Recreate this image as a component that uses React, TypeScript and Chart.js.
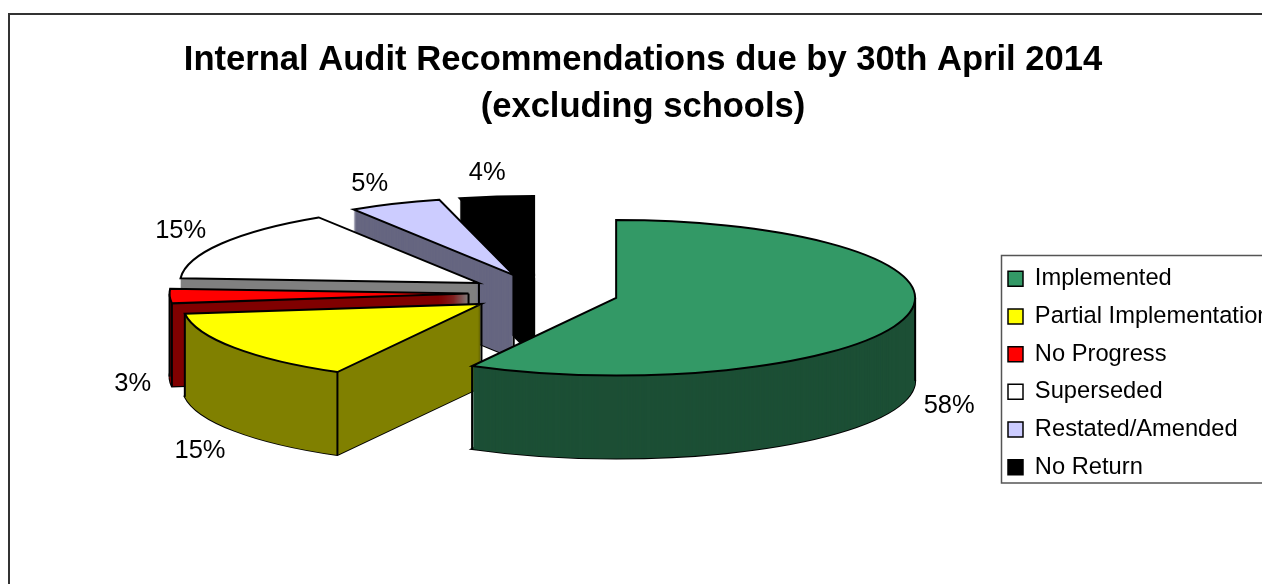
import React, { useEffect, useRef } from "react";
import { Chart, registerables } from "chart.js";

Chart.register(...registerables);

const categories = ["Implemented", "Partial Implementation", "No Progress", "Superseded", "Restated/Amended", "No Return"];
const shares = [58, 15, 3, 15, 5, 4];
const topColors = ["#339966", "#FFFF00", "#FF0000", "#FFFFFF", "#CCCCFF", "#000000"];
const wallColors = ["#1C4F35", "#808000", "#800000", "#808080", "#666680", "#000000"];
const titleLines = ["Internal Audit Recommendations due by 30th April 2014", "(excluding schools)"];

// Per-label fine adjustment of the percentage text, in pixels.
const labelNudgeX = [-6, 8, 14, 3, -5, -3];
const labelNudgeY = [2, 13, 4, -6, -8, -10];

const FONT = "'Liberation Sans', Arial, sans-serif";
const CENTER_X = 543.5;
const CENTER_Y = 293;
const RADIUS = 299;
const TILT = 0.26;
const DEPTH = 83;
const EXPLODE = 75;
const LABEL_RADIUS = 350;

const midAngle = (el: any) => (el.startAngle + el.endAngle) / 2;

// Moves the context so that an arc element lands on the tilted, exploded disc.
function applyDisc(ctx: CanvasRenderingContext2D, el: any, lift: number) {
  const mid = midAngle(el);
  ctx.translate(CENTER_X + Math.cos(mid) * EXPLODE, CENTER_Y + lift + Math.sin(mid) * EXPLODE * TILT);
  ctx.scale(1, TILT);
  ctx.translate(-el.x, -el.y);
}

function screenPoint(el: any, angle: number, r: number) {
  const mid = midAngle(el);
  return {
    x: CENTER_X + Math.cos(mid) * EXPLODE + Math.cos(angle) * r,
    y: CENTER_Y + (Math.sin(mid) * EXPLODE + Math.sin(angle) * r) * TILT,
  };
}

function outlineSlice(ctx: CanvasRenderingContext2D, el: any, lift: number) {
  ctx.save();
  applyDisc(ctx, el, lift);
  ctx.beginPath();
  ctx.moveTo(el.x, el.y);
  ctx.arc(el.x, el.y, el.outerRadius, el.startAngle, el.endAngle);
  ctx.closePath();
  ctx.restore();
  ctx.stroke();
}

function drawSlice(ctx: CanvasRenderingContext2D, el: any, wall: string) {
  ctx.strokeStyle = "#000000";
  ctx.lineWidth = 2;
  outlineSlice(ctx, el, DEPTH);

  const wallEl = Object.create(el);
  wallEl.options = { ...el.options, backgroundColor: wall };
  for (let lift = DEPTH; lift >= 0; lift--) {
    ctx.save();
    applyDisc(ctx, el, lift);
    wallEl.draw(ctx);
    ctx.restore();
  }

  // Vertical edges: only rim points on the near half, and the apex unless the slice hides it.
  const edges: [number, number][] = [];
  for (const angle of [el.startAngle, el.endAngle]) {
    if (Math.sin(angle) >= 0) edges.push([angle, el.outerRadius]);
  }
  for (const extreme of [0, Math.PI]) {
    if (el.startAngle < extreme && el.endAngle > extreme) edges.push([extreme, el.outerRadius]);
  }
  const down = Math.PI / 2;
  if (!(el.startAngle < down && el.endAngle > down)) edges.push([midAngle(el), 0]);
  for (const [angle, r] of edges) {
    const p = screenPoint(el, angle, r);
    ctx.beginPath();
    ctx.moveTo(p.x, p.y);
    ctx.lineTo(p.x, p.y + DEPTH);
    ctx.stroke();
  }

  ctx.save();
  applyDisc(ctx, el, 0);
  el.draw(ctx);
  ctx.restore();
  outlineSlice(ctx, el, 0);
}

const tiltedPie = {
  id: "tiltedPie",
  afterLayout(chart: any) {
    // The legend sits at a fixed spot and runs off the right side of the view.
    const legend = chart.legend;
    const w = legend.width;
    const h = legend.height;
    legend.left = 994;
    legend.right = 994 + w;
    legend.top = 373 - h / 2;
    legend.bottom = 373 + h / 2;
  },
  beforeDatasetsDraw(chart: any) {
    const ctx = chart.ctx;
    const arcs = chart.getDatasetMeta(0).data;
    for (let i = arcs.length - 1; i >= 0; i--) drawSlice(ctx, arcs[i], wallColors[i]);
    return false;
  },
  afterDraw(chart: any) {
    const ctx = chart.ctx;
    ctx.save();
    ctx.strokeStyle = "#333333";
    ctx.lineWidth = 2;
    ctx.strokeRect(9, 14, 2000, 2000);
    ctx.strokeStyle = "#555555";
    ctx.lineWidth = 1.5;
    ctx.strokeRect(1001.5, 255.5, 800, 227.5);

    ctx.fillStyle = "#000000";
    ctx.font = `25.5px ${FONT}`;
    ctx.textAlign = "center";
    ctx.textBaseline = "middle";
    chart.getDatasetMeta(0).data.forEach((el: any, i: number) => {
      const mid = midAngle(el);
      const p = screenPoint(el, mid, LABEL_RADIUS);
      const y = p.y + (Math.sin(mid) > 0 ? DEPTH : 0);
      ctx.fillText(`${shares[i]}%`, p.x + labelNudgeX[i], y + labelNudgeY[i]);
    });
    ctx.restore();
  },
};

export default function App() {
  const ref = useRef<HTMLCanvasElement | null>(null);

  useEffect(() => {
    if (!ref.current) return;
    const chart = new Chart(ref.current, {
      type: "pie",
      data: {
        labels: categories,
        datasets: [{ data: shares, backgroundColor: topColors, borderWidth: 0 }],
      },
      options: {
        animation: false,
        responsive: false,
        events: [],
        radius: RADIUS,
        layout: { padding: 0 },
        plugins: {
          tooltip: { enabled: false },
          title: {
            display: true,
            text: titleLines,
            color: "#000000",
            font: { family: FONT, size: 34.6, weight: "bold", lineHeight: 1.358 },
            padding: { top: 37, bottom: 0 },
          },
          legend: {
            display: true,
            position: "right",
            labels: {
              color: "#000000",
              font: { family: FONT, size: 23.7 },
              boxWidth: 15,
              boxHeight: 15,
              padding: 14,
              generateLabels: () =>
                categories.map((text, index) => ({
                  text,
                  index,
                  fillStyle: topColors[index],
                  strokeStyle: "#000000",
                  lineWidth: 1.5,
                  fontColor: "#000000",
                  hidden: false,
                })),
            },
          },
        },
      } as any,
      plugins: [tiltedPie],
    });
    return () => chart.destroy();
  }, []);

  return (
    <div style={{ position: "fixed", left: 0, top: 0, width: 1262, height: 584, overflow: "hidden", background: "#ffffff" }}>
      <canvas ref={ref} width={1286} height={640} style={{ display: "block" }} />
    </div>
  );
}
